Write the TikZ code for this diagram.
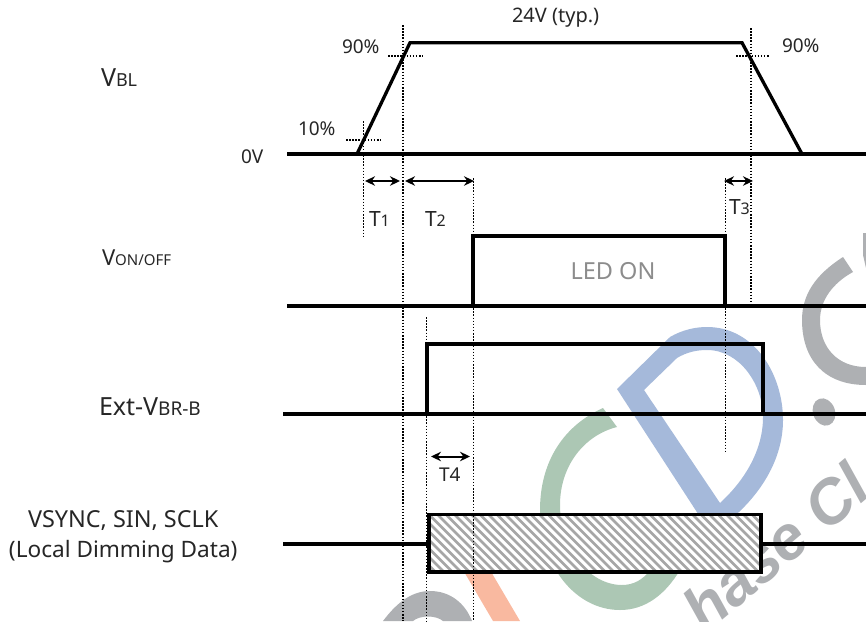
\documentclass[tikz,border=0pt]{standalone}
\usepackage{xcolor}
\usepackage{fontspec}
\setmainfont{Noto Sans}
\newfontfamily\wmfont{Liberation Sans}
\usetikzlibrary{arrows.meta}
\definecolor{wmgray}{HTML}{AEB0B3}
\definecolor{wmblue}{HTML}{A5B9DA}
\definecolor{wmgreen}{HTML}{ACC7B4}
\definecolor{wmorange}{HTML}{F9B9A0}
\newcommand{\lab}[2]{{\fontsize{#1}{#1}\selectfont #2}}
\tikzset{
  signal/.style={line width=3.3pt,line join=miter},
  guide/.style={line width=1.3pt,dash pattern=on 1.5pt off 1.6pt},
  span/.style={line width=2pt,{Stealth[length=10pt,width=9.5pt]}-{Stealth[length=10pt,width=9.5pt]}},
  txt/.style={anchor=base west,inner sep=0pt,outer sep=0pt,text=black!85}
}
\begin{document}
\begin{tikzpicture}[x=1pt,y=-1pt]
\useasboundingbox (0,0) rectangle (866,621);
\clip (0,0) rectangle (866,621);
% watermark
\fill[wmgray] (843,257) .. controls (815,275) and (802,295) .. (802,320) .. controls (802,360) and (825,385) .. (866,385) -- (866,367) .. controls (838,367) and (820,348) .. (820,320) .. controls (820,300) and (833,283) .. (853,272) -- cycle;
\fill[wmgray] (863,233) -- (866,233) -- (866,268) -- (863,255) -- cycle;
\fill[wmgray,rotate around={20:(824,412)}] (824,412) ellipse (11 and 14);
\fill[wmgray] (383,621) .. controls (398,601) and (413,591) .. (430,591) .. controls (450,591) and (465,603) .. (472,621) -- (443,621) .. controls (436,615) and (420,615) .. (413,621) -- cycle;
\fill[wmorange] (463,570) -- (490,570) -- (520,621) -- (493,621) -- cycle;
\fill[wmblue,even odd rule] (617,389) -- (670,337) .. controls (682,330) and (695,327) .. (707,327) .. controls (755,327) and (783,375) .. (783,420) .. controls (783,460) and (760,495) .. (730,520) -- (702,520) -- cycle
  (644,390) -- (677,358) .. controls (687,352) and (697,350) .. (707,350) .. controls (740,350) and (763,385) .. (763,417) .. controls (763,450) and (745,480) .. (720,503) -- cycle;
\fill[wmgreen] (603,408) .. controls (565,425) and (540,460) .. (540,510) .. controls (540,565) and (575,610) .. (620,610) .. controls (645,610) and (665,595) .. (680,570) -- (650,570) .. controls (643,580) and (633,585) .. (622,585) .. controls (590,585) and (560,550) .. (560,505) .. controls (560,465) and (585,435) .. (617,427) -- cycle;
\node[anchor=base west,rotate=40,inner sep=0pt,text=wmgray] (wmtext) at (705,635) {\lab{62pt}{\wmfont\bfseries\itshape hase Cl}};
% VBL
\coordinate (t1) at (363.5,121);
\coordinate (t2) at (403,25);
\coordinate (t3) at (473.5,178);
\coordinate (t4) at (426.5,317);
\coordinate (t5) at (725.7,178);
\coordinate (t6) at (751,28);
\draw[signal] (287,154) -- (866,154);
\draw[signal] (357,154) -- (410,42.7) -- (742,42.7) -- (802,154);
\draw[guide] (t1) -- (363.5,238);
\draw[guide] (t2) -- (403,621);
\draw[guide] (t3) -- (473.5,621);
\draw[guide] (t4) -- (426.5,621);
\draw[guide] (t5) -- (725.7,452);
\draw[guide] (t6) -- (751,302);
\draw[guide] (388,56) -- (423,56);
\draw[guide] (346,140) -- (381,140);
\draw[guide] (736,56) -- (770,56);
% VON/OFF
\draw[signal] (287,306) -- (866,306);
\draw[signal] (473,306) -- (473,236) -- (725,236) -- (725,306);
% Ext-VBR-B
\draw[signal] (283,414) -- (866,414);
\draw[signal] (427,414) -- (427,344) -- (763,344) -- (763,414);
% data
\draw[signal] (283,544) -- (430,544);
\draw[signal] (760,544) -- (866,544);
\fill[white] (428.7,514.5) rectangle (761,572);
\begin{scope}
\clip (428.7,514.5) rectangle (761,572);
\foreach \i in {-12,...,42}
  \draw[black!35,line width=2.6pt] (428+\i*8.5,505) -- (428+\i*8.5+80,585);
\draw[guide] (t3) -- (473.5,621);
\end{scope}
\draw[line width=3.8pt] (428.7,514.5) rectangle (761,572);
% spans
\draw[span] (365,181) -- (400,181);
\draw[span] (405,181) -- (474,181);
\draw[span] (724,181) -- (753,181);
\draw[span] (431,456.5) -- (470,456.5);
% labels
\node[txt] (typ) at (512,22) {\lab{20pt}{24V (typ.)}};
\node[txt] (p90a) at (342,53) {\lab{19pt}{90\%}};
\node[txt] (p10) at (298,135) {\lab{19pt}{10\%}};
\node[txt] (p90b) at (782,52) {\lab{19pt}{90\%}};
\node[txt] (zero) at (241,163) {\lab{19pt}{0V}};
\node[txt] (vbl) at (101,86) {\lab{25pt}{V}\lab{18pt}{BL}};
\node[txt] (vonoff) at (102,265) {\lab{22pt}{V}\lab{15pt}{ON/OFF}};
\node[txt] (extv) at (99,415) {\lab{25pt}{Ext-V}\lab{19pt}{BR-B}};
\node[txt] (vsync) at (28,527.7) {\lab{23.4pt}{VSYNC, SIN, SCLK}};
\node[txt] (dim) at (9,557) {\lab{22.6pt}{(Local Dimming Data)}};
\node[txt] (led) at (570.5,279) {\lab{23.5pt}{\textcolor{black!45}{LED ON}}};
\node[txt] (tone) at (369,226) {\lab{21pt}{T}\lab{16pt}{1}};
\node[txt] (ttwo) at (425,226) {\lab{21pt}{T}\lab{16pt}{2}};
\node[txt] (tthree) at (729,214) {\lab{21pt}{T}\lab{16pt}{3}};
\node[txt] (tfour) at (439,481) {\lab{19pt}{T4}};
\end{tikzpicture}
\end{document}
